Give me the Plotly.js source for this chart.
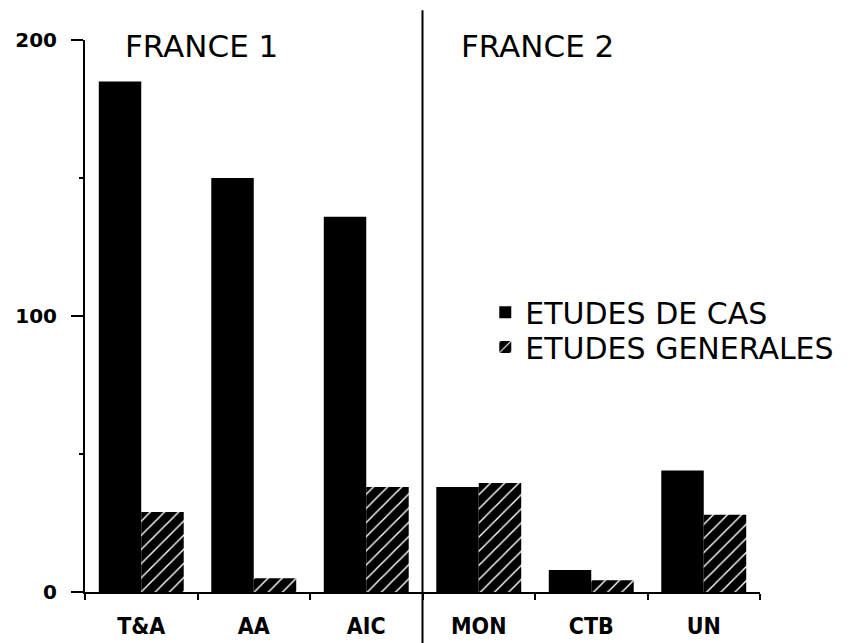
<!DOCTYPE html>
<html>
<head>
<meta charset="utf-8">
<script src="https://cdn.plot.ly/plotly-3.0.1.min.js"></script>
<style>html,body{margin:0;padding:0;background:#fff;}#chart{width:866px;height:643px;}</style>
</head>
<body>
<div id="chart"></div>
<script>
var categories = ['T&A', 'AA', 'AIC', 'MON', 'CTB', 'UN'];
var etudesDeCas = [185, 150, 136, 38, 8, 44];
var etudesGenerales = [29, 5, 38, 39.5, 4.3, 28];
var seriesNames = ['ETUDES DE CAS', 'ETUDES GENERALES'];
var yTickVals = [0, 100, 200];
var groupLabels = ['FRANCE 1', 'FRANCE 2'];

var traces = [
  {
    type: 'bar', x: categories, y: etudesDeCas, name: seriesNames[0],
    marker: {color: '#000', line: {width: 0}},
    legend: 'legend'
  },
  {
    type: 'bar', x: categories, y: etudesGenerales, name: seriesNames[1],
    marker: {color: '#000', line: {width: 0},
      pattern: {shape: '/', fgcolor: '#fff', bgcolor: '#000', size: 10, solidity: 0.14, fillmode: 'replace'}},
    legend: 'legend2'
  }
];

var legendFont = {family: 'DejaVu Sans', size: 30, color: '#000'};
var layout = {
  width: 866, height: 643,
  margin: {l: 85, r: 106, t: 40, b: 51, pad: 0},
  paper_bgcolor: '#fff', plot_bgcolor: '#fff',
  barmode: 'group', bargap: 0.245, bargroupgap: 0,
  showlegend: true,
  legend: {x: 0.593, y: 0.507, xanchor: 'left', yanchor: 'middle', font: legendFont, bgcolor: 'rgba(0,0,0,0)', borderwidth: 0},
  legend2: {x: 0.593, y: 0.444, xanchor: 'left', yanchor: 'middle', font: legendFont, bgcolor: 'rgba(0,0,0,0)', borderwidth: 0},
  xaxis: {
    type: 'category', range: [-0.5, 5.5], fixedrange: true,
    showline: true, linecolor: '#000', linewidth: 2,
    ticks: 'outside', tickson: 'boundaries', ticklen: 6, tickwidth: 2, tickcolor: '#000',
    showgrid: false, zeroline: false,
    tickfont: {family: 'DejaVu Sans Condensed, DejaVu Sans', size: 23, weight: 'bold', color: '#000'},
    ticklabelstandoff: 12
  },
  yaxis: {
    range: [0, 200], fixedrange: true,
    showline: true, linecolor: '#000', linewidth: 2,
    ticks: 'outside', ticklen: 12, tickwidth: 2, tickcolor: '#000',
    tickmode: 'array', tickvals: yTickVals, ticktext: yTickVals.map(String),
    minor: {tickvals: [50, 150], ticks: 'outside', ticklen: 4, tickwidth: 2, tickcolor: '#000', showgrid: false},
    showgrid: false, zeroline: false,
    tickfont: {family: 'DejaVu Sans', size: 20, weight: 'bold', color: '#000'},
    ticklabelstandoff: 10
  },
  shapes: [
    {type: 'line', xref: 'paper', yref: 'paper', x0: 0.5, x1: 0.5, y0: -0.0924, y1: 1.054,
     line: {color: '#000', width: 2}}
  ],
  annotations: [
    {xref: 'paper', yref: 'paper', x: 0.0563, y: 0.989, xanchor: 'left', yanchor: 'middle',
     text: groupLabels[0], showarrow: false, font: {family: 'DejaVu Sans', size: 31, color: '#000'}},
    {xref: 'paper', yref: 'paper', x: 0.554, y: 0.989, xanchor: 'left', yanchor: 'middle',
     text: groupLabels[1], showarrow: false, font: {family: 'DejaVu Sans', size: 31, color: '#000'}}
  ]
};

Plotly.newPlot('chart', traces, layout, {displayModeBar: false, staticPlot: true});
</script>
</body>
</html>
